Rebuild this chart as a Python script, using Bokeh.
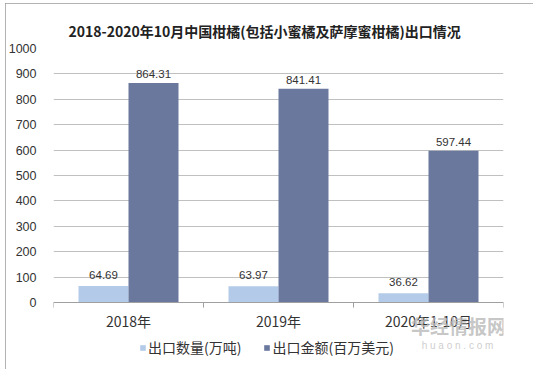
import numpy as np
from bokeh.plotting import figure
from bokeh.models import (Range1d, FixedTicker, Span, ColumnDataSource, LabelSet,
                          Legend, LegendItem, Label)
from bokeh.core.properties import value
from bokeh.embed import file_html
from bokeh.resources import INLINE

categories = ["2018年", "2019年", "2020年1-10月"]
volume = [64.69, 63.97, 36.62]        # 出口数量(万吨)
value_usd = [864.31, 841.41, 597.44]  # 出口金额(百万美元)
y_ticks = [0, 100, 200, 300, 400, 500, 600, 700, 800, 900, 1000]
series_names = ["出口数量(万吨)", "出口金额(百万美元)"]
title_text = "2018-2020年10月中国柑橘(包括小蜜橘及萨摩蜜柑橘)出口情况"

LIGHT = "#b3cbe9"
DARK = "#6a789e"
TXT = "#333333"
AXIS = "#a0a0a0"
FONT = "Noto Sans CJK SC"
NUMFONT = "Liberation Sans"

n = len(categories)
centers = np.arange(n) + 0.5
edges = np.arange(n + 1)
bw = 1 / 3

source = ColumnDataSource(dict(
    x1=centers - bw / 2,
    x2=centers + bw / 2,
    vol=volume,
    val=value_usd,
    vol_lbl=[f"{v:.2f}" for v in volume],
    val_lbl=[f"{v:.2f}" for v in value_usd],
))

# y range extends below 0 so the category labels, legend and watermark live in the frame
p = figure(width=528, height=366, x_range=Range1d(0, n), y_range=Range1d(-248, 1000),
           x_axis_location=None, output_backend="svg", toolbar_location=None,
           min_border_left=48, min_border_right=30, min_border_top=45, min_border_bottom=4)
p.styles = {"outline": "1px solid #9a9a9a", "outline-offset": "-1px",
            "margin-left": "5px", "margin-top": "3px"}
p.outline_line_color = None
p.background_fill_color = "white"
p.border_fill_color = "white"

p.title.text = title_text
p.title.align = "left"
p.title.offset = 15
p.title.vertical_align = "top"
p.title.standoff = 12
p.title.text_font = FONT
p.title.text_font_size = "14px"
p.title.text_font_style = "bold"
p.title.text_color = "#222222"

yaxis = p.yaxis[0]
yaxis.ticker = FixedTicker(ticks=y_ticks)
yaxis.axis_line_color = None
yaxis.major_tick_line_color = None
yaxis.minor_tick_line_color = None
yaxis.major_label_text_font = NUMFONT
yaxis.major_label_text_font_size = "12.5px"
yaxis.major_label_text_color = TXT
yaxis.major_label_standoff = 11

p.xgrid.grid_line_color = None
p.ygrid.grid_line_color = "#c0c0c0"
p.ygrid.ticker = FixedTicker(ticks=y_ticks)

# category axis line, boundary ticks and labels
p.add_layout(Span(location=0, dimension="width", line_color=AXIS, line_width=1))
p.segment(x0=edges, y0=0, x1=edges, y1=-20, line_color=AXIS, line_width=1)
p.text(x=centers, y=[0] * n, text=categories, y_offset=18, text_align="center",
       text_baseline="middle", text_font=value(FONT), text_font_size="14px", text_color=TXT)

r1 = p.vbar(x="x1", top="vol", width=bw, source=source, fill_color=LIGHT, line_color=None)
r2 = p.vbar(x="x2", top="val", width=bw, source=source, fill_color=DARK, line_color=None)

l1 = LabelSet(x="x1", y="vol", text="vol_lbl", source=source,
              text_align="center", text_baseline="bottom", y_offset=7,
              text_font=value(NUMFONT), text_font_size="11.5px", text_color=TXT)
l2 = LabelSet(x="x2", y="val", text="val_lbl", source=source,
              text_align="center", text_baseline="bottom", y_offset=5,
              text_font=value(NUMFONT), text_font_size="11.5px", text_color=TXT)
p.add_layout(l1)
p.add_layout(l2)

legend = Legend(items=[LegendItem(label=series_names[0], renderers=[r1]),
                       LegendItem(label=series_names[1], renderers=[r2])],
                orientation="horizontal", location=(86, 8),
                label_text_font=FONT, label_text_font_size="14px", label_text_color=TXT,
                glyph_width=7, glyph_height=7, label_height=16, label_standoff=2, spacing=22,
                padding=0, margin=0, border_line_color=None, background_fill_alpha=0)
p.add_layout(legend)

wm1 = Label(x=405, y=40, x_units="screen", y_units="screen", text="华经情报网",
            text_align="center", text_baseline="middle",
            text_font=FONT, text_font_size="19px", text_font_style="bold",
            text_color="#b8b8b8", text_alpha=0.8)
wm2 = Label(x=404, y=20, x_units="screen", y_units="screen", text="h u a o n . c o m",
            text_align="center", text_baseline="middle",
            text_font=NUMFONT, text_font_size="10px",
            text_color="#c8c8c8", text_alpha=0.9)
p.add_layout(wm1)
p.add_layout(wm2)

open("out.html", "w").write(file_html(p, INLINE))
